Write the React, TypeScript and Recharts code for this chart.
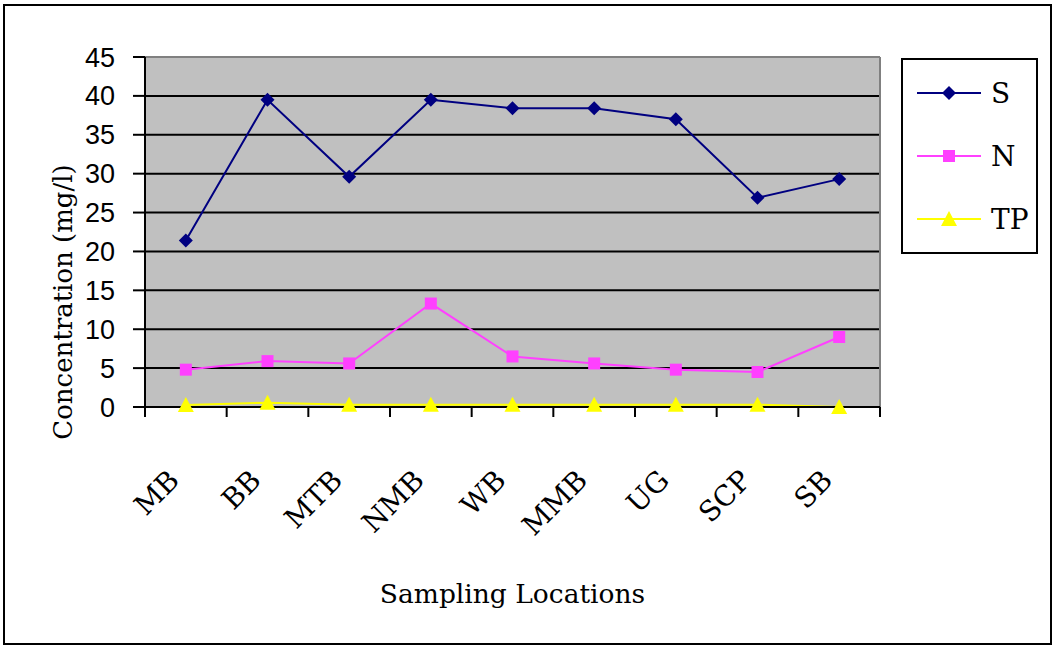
import React from 'react';
import { LineChart, Line, XAxis, YAxis, CartesianGrid, Legend, ReferenceLine } from 'recharts';

const locations = ['MB', 'BB', 'MTB', 'NMB', 'WB', 'MMB', 'UG', 'SCP', 'SB'];
const sValues = [21.4, 39.5, 29.6, 39.5, 38.4, 38.4, 37.0, 26.9, 29.3];
const nValues = [4.8, 5.9, 5.6, 13.3, 6.5, 5.6, 4.8, 4.5, 9.0];
const tpValues = [0.25, 0.55, 0.3, 0.3, 0.3, 0.3, 0.3, 0.3, 0.0];
const yTicks = [0, 5, 10, 15, 20, 25, 30, 35, 40, 45];

const series = [
  { key: 'S', color: '#000080', shape: 'diamond' },
  { key: 'N', color: '#FF40FF', shape: 'square' },
  { key: 'TP', color: '#FFFF00', shape: 'triangle' },
];

// x sits in the middle of each category, ticks at the category edges
const data = locations.map((loc, i) => ({
  x: i + 0.5,
  name: loc,
  S: sValues[i],
  N: nValues[i],
  TP: tpValues[i],
}));
const xTicks = Array.from({ length: locations.length * 2 + 1 }, (_, i) => i / 2);

const serif = '"DejaVu Serif", serif';

const Marker = ({ shape, cx, cy, color }: { shape: string; cx: number; cy: number; color: string }) => {
  if (shape === 'diamond') {
    return <polygon points={`${cx},${cy - 7} ${cx + 7},${cy} ${cx},${cy + 7} ${cx - 7},${cy}`} fill={color} />;
  }
  if (shape === 'square') {
    return <rect x={cx - 6} y={cy - 6} width={12} height={12} fill={color} />;
  }
  return <polygon points={`${cx},${cy - 8} ${cx + 8},${cy + 7} ${cx - 8},${cy + 7}`} fill={color} />;
};

const makeDot = (shape: string, color: string) => (props: any) => {
  if (props.cx == null || props.cy == null) return <g key={`${shape}-${props.index}`} />;
  return (
    <g key={`${shape}-${props.index}`}>
      <Marker shape={shape} cx={props.cx} cy={props.cy} color={color} />
    </g>
  );
};

const XTick = (props: any) => {
  const { x, y, payload } = props;
  const v = payload.value;
  if (Number.isInteger(v)) {
    return <line x1={x} x2={x} y1={y} y2={y + 10} stroke="#000" strokeWidth={2} />;
  }
  const label = locations[Math.floor(v)];
  const tx = x - 5;
  const ty = y + 75;
  return (
    <text
      x={tx}
      y={ty}
      textAnchor="end"
      transform={`rotate(-45 ${tx} ${ty})`}
      fontFamily={serif}
      fontSize={28}
      fill="#000"
    >
      {label}
    </text>
  );
};

const LegendBox = () => (
  <svg width={137} height={196}>
    <rect x={1} y={1} width={135} height={194} fill="#fff" stroke="#000" strokeWidth={2} />
    {series.map((s, i) => {
      const cy = 35 + i * 63;
      return (
        <g key={s.key}>
          <line x1={16} x2={80} y1={cy} y2={cy} stroke={s.color} strokeWidth={2} />
          <Marker shape={s.shape} cx={48} cy={cy} color={s.color} />
          <text x={90} y={cy + 10} fontFamily={serif} fontSize={28} fill="#000">
            {s.key}
          </text>
        </g>
      );
    })}
  </svg>
);

export default function App() {
  return (
    <div style={{ position: 'absolute', left: 0, top: 0, width: 1062, height: 646, background: '#fff' }}>
      <div
        style={{
          position: 'absolute',
          left: 3,
          top: 4,
          width: 1049,
          height: 641,
          border: '2px solid #000',
          boxSizing: 'border-box',
        }}
      />
      <div style={{ position: 'absolute', left: 0, top: 0 }}>
        <LineChart width={1062} height={646} data={data} margin={{ top: 57, right: 182, left: 0, bottom: 0 }}>
          <CartesianGrid
            vertical={false}
            horizontalValues={yTicks.filter((v) => v > 0 && v < 45)}
            stroke="#000"
            strokeWidth={2}
            fill="#C0C0C0"
            fillOpacity={1}
          />
          <ReferenceLine y={45} stroke="#808080" strokeWidth={2} />
          <ReferenceLine x={9} stroke="#808080" strokeWidth={2} />
          <XAxis
            dataKey="x"
            type="number"
            domain={[0, 9]}
            ticks={xTicks}
            interval={0}
            height={239}
            tickLine={false}
            tickSize={0}
            tickMargin={0}
            tick={<XTick />}
            axisLine={{ stroke: '#000', strokeWidth: 2 }}
            label={{
              value: 'Sampling Locations',
              position: 'center',
              dy: 67,
              style: { fontFamily: serif, fontSize: 26.5, fill: '#000' },
            }}
          />
          <YAxis
            domain={[0, 45]}
            ticks={yTicks}
            interval={0}
            width={145}
            tickSize={12}
            tickMargin={18}
            tick={{ fontFamily: '"Liberation Sans", sans-serif', fontSize: 27, fill: '#000' }}
            tickLine={{ stroke: '#000', strokeWidth: 2 }}
            axisLine={{ stroke: '#000', strokeWidth: 2 }}
            label={{
              value: 'Concentration (mg/l)',
              angle: -90,
              position: 'center',
              dx: -10,
              dy: 70,
              style: { fontFamily: serif, fontSize: 26, fill: '#000' },
            }}
          />
          <Legend
            layout="vertical"
            align="center"
            verticalAlign="middle"
            content={<LegendBox />}
            wrapperStyle={{ position: 'absolute', left: 901, top: 58, width: 137, height: 196 }}
          />
          {series.map((s) => (
            <Line
              key={s.key}
              dataKey={s.key}
              stroke={s.color}
              strokeWidth={2}
              dot={makeDot(s.shape, s.color)}
              activeDot={false}
              isAnimationActive={false}
            />
          ))}
        </LineChart>
      </div>
    </div>
  );
}
